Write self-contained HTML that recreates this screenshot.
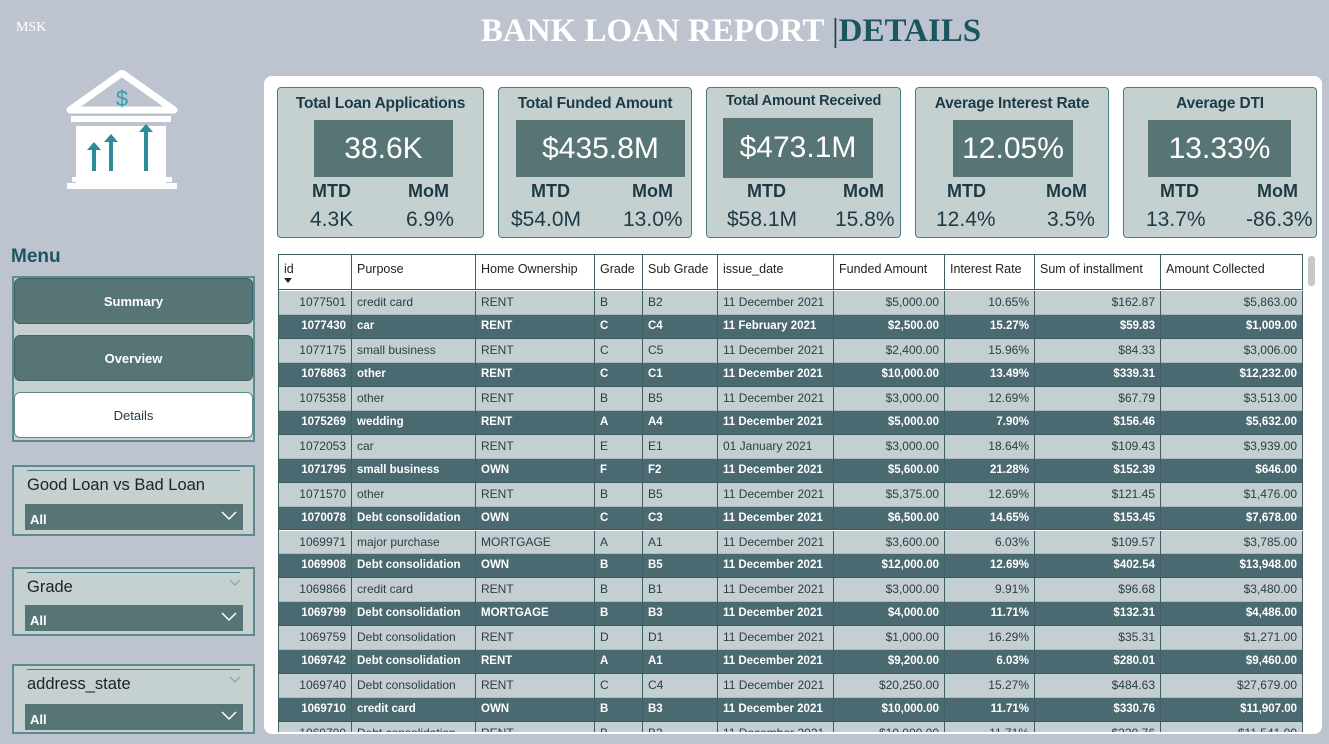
<!DOCTYPE html>
<html><head><meta charset="utf-8">
<style>
*{box-sizing:border-box;margin:0;padding:0}
body{width:1329px;height:744px;background:#bec4cf;font-family:"Liberation Sans",sans-serif;position:relative;overflow:hidden}
.abs{position:absolute}
.card{position:absolute;top:87px;height:151px;background:#c5d0d1;border:1px solid #4e7b80;border-radius:4px;color:#1e3b45}
.card .t{position:absolute;top:7px;left:0;right:0;text-align:center;font-weight:bold;font-size:15.5px;letter-spacing:-0.2px}
.card .v{position:absolute;top:32px;height:57px;background:#587576;color:#fff;font-size:30px;text-align:center;line-height:57px}
.card .l{position:absolute;top:93px;font-size:18px;font-weight:bold}
.card .n{position:absolute;top:120px;font-size:21px}
.btn{position:absolute;left:14px;width:239px;border-radius:6px;text-align:center;font-size:13px}
.slicer{position:absolute;left:12px;width:243px;background:#c5d0d1;border:2px solid #5d8a8f}
.slicer .line{position:absolute;left:13px;right:13px;top:3px;height:1px;background:#4e7b80}
.slicer .h{position:absolute;left:13px;top:9px;font-size:16.5px;color:#222}
.slicer .dd{position:absolute;left:11px;width:218px;height:26px;background:#587576;color:#fff;font-size:13px;font-weight:bold;padding:8px 0 0 5px}
.slicer .dd svg{position:absolute;right:6px;top:7px}
.slicer .hc{position:absolute;right:12px;top:10px}
.cell{position:absolute;font-size:12px;white-space:nowrap;overflow:hidden;border-right:1px solid #3f5f66;padding:0 5px}
</style></head><body>
<div class="abs" style="left:16px;top:20px;font-family:'Liberation Serif',serif;font-size:14px;color:#fff">MSK</div>
<div class="abs" style="left:0;width:1462px;top:13px;text-align:center;font-family:'Liberation Serif',serif;font-weight:bold;font-size:33px;color:#fff">BANK LOAN REPORT <span style="color:#1e3b45;font-weight:normal">|</span><span style="color:#1b5560">DETAILS</span></div>

<svg class="abs" style="left:66px;top:70px" width="112" height="124" viewBox="0 0 112 124">
<polygon points="56,3 4,40 108,40" fill="none" stroke="#fff" stroke-width="7" stroke-linejoin="round"/>
<text x="56" y="36" text-anchor="middle" font-size="22" fill="#3a9bb0" font-family="Liberation Sans">$</text>
<rect x="5" y="46" width="100" height="6" fill="#fff"/>
<rect x="10" y="56" width="90" height="60" fill="#fff"/>
<rect x="1" y="113" width="110" height="6" fill="#fff"/>
<rect x="6" y="107" width="100" height="5" fill="#fff"/>
<polygon points="28,72 21,80 26,80 26,101 30,101 30,80 35,80" fill="#2e8b9c"/>
<polygon points="45,64 38,72 43,72 43,101 47,101 47,72 52,72" fill="#2e8b9c"/>
<polygon points="80,54 73,62 78,62 78,101 82,101 82,62 87,62" fill="#2e8b9c"/>
</svg>

<div class="abs" style="left:11px;top:246px;font-size:19px;font-weight:bold;color:#1b5560">Menu</div>
<div class="abs" style="left:12px;top:276px;width:243px;height:166px;background:#c5d0d1;border:2px solid #5d8a8f"></div>
<div class="btn" style="top:278px;height:46px;line-height:46px;background:#587576;color:#fff;font-weight:bold;border:1px solid #3f6366">Summary</div>
<div class="btn" style="top:335px;height:46px;line-height:46px;background:#587576;color:#fff;font-weight:bold;border:1px solid #3f6366">Overview</div>
<div class="btn" style="top:392px;height:46px;line-height:46px;background:#fff;color:#1e3b45;border:1px solid #5d8a8f">Details</div>

<div class="slicer" style="top:465px;height:71px"><div class="line"></div><div class="h">Good Loan vs Bad Loan</div><div class="dd" style="top:37px">All<svg width="16" height="10"><polyline points="1,1 8,8 15,1" fill="none" stroke="#fff" stroke-width="1.5"/></svg></div></div>
<div class="slicer" style="top:567px;height:69px"><div class="line"></div><div class="h">Grade</div><svg class="hc" width="12" height="7"><polyline points="1,1 6,6 11,1" fill="none" stroke="#8a9a9c" stroke-width="1"/></svg><div class="dd" style="top:36px">All<svg width="16" height="10"><polyline points="1,1 8,8 15,1" fill="none" stroke="#fff" stroke-width="1.5"/></svg></div></div>
<div class="slicer" style="top:664px;height:70px"><div class="line"></div><div class="h">address_state</div><svg class="hc" width="12" height="7"><polyline points="1,1 6,6 11,1" fill="none" stroke="#8a9a9c" stroke-width="1"/></svg><div class="dd" style="top:38px">All<svg width="16" height="10"><polyline points="1,1 8,8 15,1" fill="none" stroke="#fff" stroke-width="1.5"/></svg></div></div>

<div class="abs" style="left:264px;top:76px;width:1058px;height:658px;background:#fff;border-radius:8px"></div>

<div class="card" style="left:277px;width:207px"><div class="t">Total Loan Applications</div><div class="v" style="left:36px;width:139px">38.6K</div><div class="l" style="left:34px">MTD</div><div class="l" style="left:130px">MoM</div><div class="n" style="left:32px">4.3K</div><div class="n" style="left:128px">6.9%</div></div>
<div class="card" style="left:498px;width:194px"><div class="t">Total Funded Amount</div><div class="v" style="left:17px;width:169px">$435.8M</div><div class="l" style="left:32px">MTD</div><div class="l" style="left:133px">MoM</div><div class="n" style="left:12px">$54.0M</div><div class="n" style="left:124px">13.0%</div></div>
<div class="card" style="left:706px;width:195px"><div class="t" style="top:5px;font-size:14.5px">Total Amount Received</div><div class="v" style="left:16px;width:150px;top:30px;height:60px;line-height:60px">$473.1M</div><div class="l" style="left:40px">MTD</div><div class="l" style="left:136px">MoM</div><div class="n" style="left:20px">$58.1M</div><div class="n" style="left:128px">15.8%</div></div>
<div class="card" style="left:915px;width:194px"><div class="t">Average Interest Rate</div><div class="v" style="left:37px;width:120px">12.05%</div><div class="l" style="left:31px">MTD</div><div class="l" style="left:130px">MoM</div><div class="n" style="left:20px">12.4%</div><div class="n" style="left:131px">3.5%</div></div>
<div class="card" style="left:1123px;width:194px"><div class="t">Average DTI</div><div class="v" style="left:24px;width:143px">13.33%</div><div class="l" style="left:36px">MTD</div><div class="l" style="left:133px">MoM</div><div class="n" style="left:22px">13.7%</div><div class="n" style="left:122px">-86.3%</div></div>

<div class="abs" id="tbl" style="left:278px;top:254px;width:1025px;height:478px;overflow:hidden;border-left:1px solid #3f5f66;border-top:1px solid #3f5f66"></div>
<div class="abs" style="left:1308px;top:256px;width:7px;height:30px;background:#c8c8c8;border-radius:3px"></div>

<script>
const headers=["id","Purpose","Home Ownership","Grade","Sub Grade","issue_date","Funded Amount","Interest Rate","Sum of installment","Amount Collected"];
const ids=["1077501","1077430","1077175","1076863","1075358","1075269","1072053","1071795","1071570","1070078","1069971","1069908","1069866","1069799","1069759","1069742","1069740","1069710","1069700"];
const purposes=["credit card","car","small business","other","other","wedding","car","small business","other","Debt consolidation","major purchase","Debt consolidation","credit card","Debt consolidation","Debt consolidation","Debt consolidation","Debt consolidation","credit card","Debt consolidation"];
const ownership=["RENT","RENT","RENT","RENT","RENT","RENT","RENT","OWN","RENT","OWN","MORTGAGE","OWN","RENT","MORTGAGE","RENT","RENT","RENT","OWN","RENT"];
const grades=["B","C","C","C","B","A","E","F","B","C","A","B","B","B","D","A","C","B","B"];
const subGrades=["B2","C4","C5","C1","B5","A4","E1","F2","B5","C3","A1","B5","B1","B3","D1","A1","C4","B3","B3"];
const issueDates=["11 December 2021","11 February 2021","11 December 2021","11 December 2021","11 December 2021","11 December 2021","01 January 2021","11 December 2021","11 December 2021","11 December 2021","11 December 2021","11 December 2021","11 December 2021","11 December 2021","11 December 2021","11 December 2021","11 December 2021","11 December 2021","11 December 2021"];
const funded=["$5,000.00","$2,500.00","$2,400.00","$10,000.00","$3,000.00","$5,000.00","$3,000.00","$5,600.00","$5,375.00","$6,500.00","$3,600.00","$12,000.00","$3,000.00","$4,000.00","$1,000.00","$9,200.00","$20,250.00","$10,000.00","$10,000.00"];
const rates=["10.65%","15.27%","15.96%","13.49%","12.69%","7.90%","18.64%","21.28%","12.69%","14.65%","6.03%","12.69%","9.91%","11.71%","16.29%","6.03%","15.27%","11.71%","11.71%"];
const installments=["$162.87","$59.83","$84.33","$339.31","$67.79","$156.46","$109.43","$152.39","$121.45","$153.45","$109.57","$402.54","$96.68","$132.31","$35.31","$280.01","$484.63","$330.76","$330.76"];
const collected=["$5,863.00","$1,009.00","$3,006.00","$12,232.00","$3,513.00","$5,632.00","$3,939.00","$646.00","$1,476.00","$7,678.00","$3,785.00","$13,948.00","$3,480.00","$4,486.00","$1,271.00","$9,460.00","$27,679.00","$11,907.00","$11,541.00"];
const colX=[0,73,197,316,364,439,555,666,756,882,1024];
const rightAlign=[true,false,false,false,false,false,true,true,true,true];
const tbl=document.getElementById('tbl');
const headH=35,rowH=23.95;
headers.forEach((h,c)=>{
  const d=document.createElement('div');
  
  
  d.className='cell';
  d.style.cssText=`left:${colX[c]}px;top:0;width:${colX[c+1]-colX[c]}px;height:${headH}px;background:#fff;color:#222;font-size:12.5px;padding-top:7px;border-bottom:1px solid #3f5f66`;
  d.textContent=h;
  if(c===0){const a=document.createElement('div');a.style.cssText='position:absolute;left:5px;top:23px;width:0;height:0;border-left:4px solid transparent;border-right:4px solid transparent;border-top:5px solid #222';d.appendChild(a);}
  tbl.appendChild(d);
});
const cols=[ids,purposes,ownership,grades,subGrades,issueDates,funded,rates,installments,collected];
ids.forEach((id,r)=>{
  const dark=r%2===1;
  const top=headH+1+r*rowH;
  const row=document.createElement('div');
  
  
  row.style.cssText=`position:absolute;left:0;top:${top}px;width:1024px;height:${rowH}px;background:${dark?'#4a6970':'#c3cfd1'};border-bottom:1px solid ${dark?'#3d5a60':'#a9b9bc'}`;
  tbl.appendChild(row);
  cols.forEach((arr,c)=>{
    const d=document.createElement('div');
    
    
    d.className='cell';
    d.style.cssText=`left:${colX[c]}px;top:${top}px;width:${colX[c+1]-colX[c]}px;height:${rowH}px;line-height:${rowH}px;color:${dark?'#fff':'#2c3e42'};font-weight:${dark?'bold':'normal'};font-size:${dark?'11.5px':'12px'};text-align:${rightAlign[c]?'right':'left'}`;
    d.textContent=arr[r];
    tbl.appendChild(d);
  });
});
</script>
</body></html>
